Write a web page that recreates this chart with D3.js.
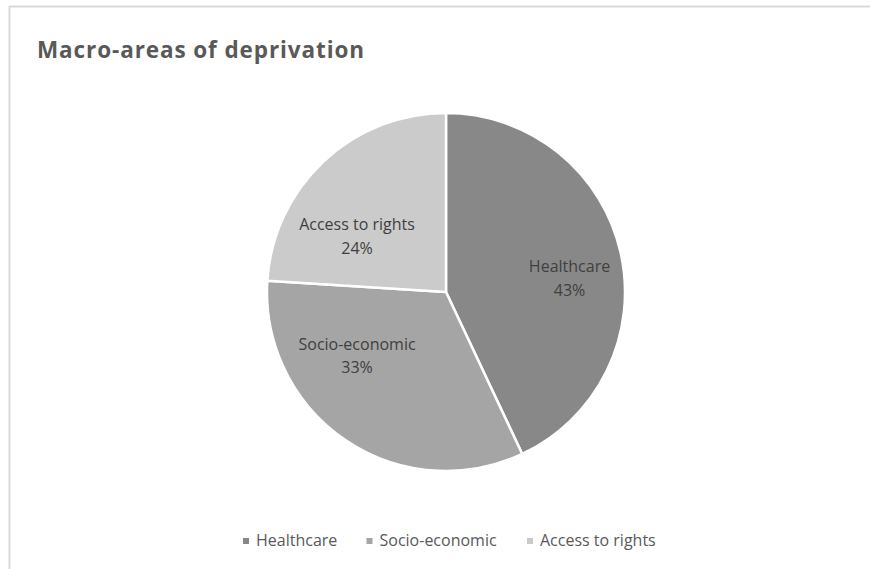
<!DOCTYPE html>
<html><head><meta charset="utf-8">
<script src="https://cdn.jsdelivr.net/npm/d3@7"></script>
<style>body{margin:0;background:#fff}svg{display:block}text{font-family:"Open Sans",sans-serif}</style>
</head><body><svg id="c" width="870" height="569"></svg>
<script>
const title = "Macro-areas of deprivation";
const categories = ["Healthcare", "Socio-economic", "Access to rights"];
const values = [43, 33, 24];
const colors = ["#888888", "#a5a5a5", "#cbcbcb"];

const svg = d3.select("#c");
// frame (top + left borders)
svg.append("line").attr("x1",9.5).attr("x2",870).attr("y1",6.5).attr("y2",6.5).attr("stroke","#d9d9d9").attr("stroke-width",2);
svg.append("line").attr("x1",9.5).attr("x2",9.5).attr("y1",6).attr("y2",569).attr("stroke","#d9d9d9").attr("stroke-width",2);

svg.append("text").attr("x",37).attr("y",58).attr("font-size",22.5).attr("font-weight","bold")
  .attr("letter-spacing",0.9).attr("fill","#595959").text(title);

const cx = 446, cy = 292, r = 179;
const pie = d3.pie().sort(null).value(d=>d)(values);
const arc = d3.arc().innerRadius(0).outerRadius(r);
const g = svg.append("g").attr("transform",`translate(${cx},${cy})`);
g.selectAll("path").data(pie).join("path").attr("d",arc)
  .attr("fill",(d,i)=>colors[i]).attr("stroke","#fff").attr("stroke-width",2.5).attr("stroke-linejoin","round");

// label placement (best-fit style): angle shift (deg) and radius factor per slice index
const labelShift = [5.7, 20.5, -14.2];
const labelRad = [0.695, 0.609, 0.59];
const total = d3.sum(values);
pie.forEach((d,i)=>{
  const a = (d.startAngle+d.endAngle)/2 + labelShift[i]*Math.PI/180;
  const k = r*labelRad[i];
  const x = k*Math.sin(a), y = -k*Math.cos(a);
  const t = g.append("text").attr("text-anchor","middle").attr("font-size",16).attr("fill","#404040");
  t.append("tspan").attr("x",x).attr("y",y-5).text(categories[i]);
  t.append("tspan").attr("x",x).attr("y",y+18.5).text(Math.round(d.data/total*100)+"%");
});

// legend
const legX = [243, 366.5, 527];
const lg = svg.append("g");
categories.forEach((c,i)=>{
  lg.append("rect").attr("x",legX[i]).attr("y",538).attr("width",6).attr("height",6).attr("fill",colors[i]);
  lg.append("text").attr("x",legX[i]+13).attr("y",546).attr("font-size",16).attr("fill","#595959").text(c);
});
</script></body></html>
